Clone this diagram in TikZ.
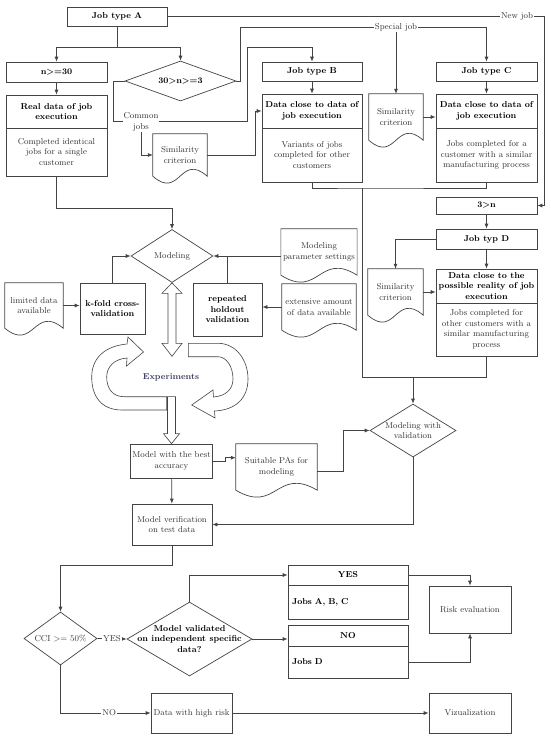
\documentclass[tikz,border=0pt]{standalone}
\usepackage{tikz}
\usetikzlibrary{arrows.meta,shapes.geometric,calc}
\usepackage{xcolor}
\definecolor{linegray}{RGB}{68,68,68}
\definecolor{expblue}{RGB}{58,62,92}

\begin{document}
\begin{tikzpicture}[x=1pt,y=1pt,font=\fontsize{8.6}{10.5}\selectfont,
  box/.style={draw=linegray,fill=white,line width=0.7pt,inner sep=2pt,align=center,text=black!80},
  hdr/.style={box,text=black,font=\fontsize{8.6}{10.5}\selectfont\bfseries},
  doc/.style={inner sep=2pt,align=center,text=black!80},
  decision/.style={diamond,draw=linegray,fill=white,line width=0.7pt,inner sep=0pt},
  dlbl/.style={align=center,text=black!80},
  dbold/.style={align=center,text=black,font=\fontsize{8.6}{10.5}\selectfont\bfseries},
  lbl/.style={fill=white,inner sep=1pt,align=center,text=black!80},
  line/.style={draw=linegray,line width=0.7pt},
  arr/.style={line,-{Latex[length=5pt,width=4pt]}},
  hollow/.style={draw=linegray,fill=white,line width=0.6pt}]
\fill[white] (0,0) rectangle (550,-737);
\useasboundingbox (0,0) rectangle (550,-737);
% job type A and its branches
\node[hdr,minimum width=100,minimum height=19] (jobA) at (117,-16.5) {Job type A};
\node[hdr,minimum width=101,minimum height=20] (n30) at (56.5,-72) {n>=30};
\node[hdr,minimum width=101,minimum height=33] (realH) at (56.5,-111.5) {Real data of job\\execution};
\node[box,minimum width=101,minimum height=48] (realB) at (56.5,-152) {Completed identical\\jobs for a single\\customer};
\node[decision,minimum width=111,minimum height=40,label={[dbold]center:{30>n>=3}}] (dec30) at (180.5,-81) {};
\node[doc,minimum width=54,minimum height=42] (simA) at (180,-155) {Similarity\\criterion};
% job type B
\node[hdr,minimum width=100,minimum height=19] (jobB) at (312,-71.5) {Job type B};
\node[hdr,minimum width=100,minimum height=34] (dataBH) at (312,-111) {Data close to data of\\job execution};
\node[box,minimum width=100,minimum height=54] (dataBB) at (312,-155) {Variants of jobs\\completed for other\\customers};
% job type C
\node[doc,minimum width=54,minimum height=46] (simC) at (396,-117) {Similarity\\criterion};
\node[hdr,minimum width=101,minimum height=19] (jobC) at (486.5,-71.5) {Job type C};
\node[hdr,minimum width=101,minimum height=34] (dataCH) at (486.5,-111) {Data close to data of\\job execution};
\node[box,minimum width=101,minimum height=54] (dataCB) at (486.5,-155) {Jobs completed for a\\customer with a similar\\manufacturing process};
% job type D
\node[hdr,minimum width=101,minimum height=17] (n3) at (486.5,-205.5) {3>n};
\node[hdr,minimum width=101,minimum height=20] (jobD) at (486.5,-239) {Job typ D};
\node[hdr,minimum width=101,minimum height=34] (dataDH) at (486.5,-286) {Data close to the\\possible reality of job\\execution};
\node[box,minimum width=101,minimum height=53] (dataDB) at (486.5,-329.5) {Jobs completed for\\other customers with a\\similar manufacturing\\process};
\node[doc,minimum width=55,minimum height=46] (simD) at (395.5,-292) {Similarity\\criterion};
% modeling block
\node[decision,minimum width=82,minimum height=53,label={[dlbl]center:Modeling}] (model) at (172,-256) {};
\node[hdr,minimum width=65,minimum height=51] (kfold) at (112.5,-308.5) {k-fold cross-\\validation};
\node[doc,minimum width=58,minimum height=45] (limit) at (34,-305.5) {limited data\\available};
\node[hdr,minimum width=69,minimum height=53] (holdout) at (227.5,-309.5) {repeated\\holdout\\validation};
\node[doc,minimum width=74,minimum height=46] (param) at (319,-252) {Modeling\\parameter settings};
\node[doc,minimum width=74,minimum height=46] (extens) at (319,-307) {extensive amount\\of data available};
\node[text=expblue,font=\fontsize{8.6}{10.5}\selectfont\bfseries] (exper) at (171,-377) {Experiments};
\node[box,minimum width=81,minimum height=34] (best) at (171.5,-461) {Model with the best\\accuracy};
\node[doc,minimum width=81,minimum height=46] (pas) at (276.5,-467) {Suitable PAs for\\modeling};
\node[decision,minimum width=86,minimum height=53,label={[dlbl]center:{Modeling with\\validation}}] (mval) at (413,-430.5) {};
\node[box,minimum width=80,minimum height=41] (verif) at (172,-524.5) {Model verification\\on test data};
% evaluation
\node[decision,minimum width=73,minimum height=53,label={[dlbl]center:{CCI >= 50\%}}] (cci) at (60.5,-638.5) {};
\node[decision,minimum width=125,minimum height=74,label={[dbold]center:{Model validated\\on independent specific\\data?}}] (valid) at (189.5,-639) {};
\node[hdr,minimum width=120,minimum height=20] (yesH) at (348,-575) {YES};
\node[hdr,minimum width=120,minimum height=34,text width=112,align=left] (yesB) at (348,-602) {Jobs A, B, C};
\node[hdr,minimum width=120,minimum height=21] (noH) at (348,-635.5) {NO};
\node[hdr,minimum width=120,minimum height=32,text width=112,align=left] (noB) at (348,-662) {Jobs D};
\node[box,minimum width=82,minimum height=47] (risk) at (470,-609.5) {Risk evaluation};
\node[box,minimum width=81,minimum height=40] (high) at (191.5,-713) {Data with high risk};
\node[box,minimum width=82,minimum height=40] (viz) at (470,-713) {Vizualization};
% document outlines
\foreach \d in {simA,simC,simD,limit,param,extens,pas}
  \draw[line] (\d.north west) -- (\d.north east) -- (\d.south east)
    .. controls ($(\d.south)+(0,24)$) and ($(\d.south)+(0,-24)$) .. (\d.south west) -- cycle;
% top splits
\coordinate (splitA) at (117,-47);
\draw[line] (jobA.south) -- (splitA);
\draw[arr] (splitA) -| (n30.north);
\draw[arr] (splitA) -| (dec30.north);
\draw[arr] (n30) -- (realH);
% new job
\coordinate (newR) at (544,-16.5);
\draw[arr] (jobA.east) -- (newR) |- (n3.east);
\node[lbl] (newlbl) at (517,-16.5) {New job};
% special job
\coordinate (spL) at (240,-27);
\draw[arr] (dec30.east) -- (dec30.east -| spL) -- (spL) -| (jobC.north);
\node[lbl] (splbl) at (396,-27) {Special job};
\draw[arr] (splbl.south) -- (simC.north);
% common jobs
\coordinate (cjL) at (113,-121);
\coordinate (cjR) at (247,-121);
\draw[arr] (dec30.west) -| (cjL) -- (cjR) -- (cjR |- splitA) -| (jobB.north);
\node[lbl] (cjlbl) at (141,-122) {Common\\jobs};
\draw[arr] (cjlbl.south) |- (simA.west);
\draw[arr] (simA.east) -- ++(48,0) |- (dataBH.west);
\draw[arr] (jobB) -- (dataBH);
\draw[arr] (jobC) -- (dataCH);
\draw[arr] (simC.east) -- (simC.east -| dataCH.west);
% job D
\draw[arr] (n3) -- (jobD);
\draw[arr] (jobD) -- (dataDH);
\draw[arr] (jobD.west) -| (simD.north);
\draw[arr] (simD.east) -- (simD.east -| dataDH.west);
% B, C, D merge into validation
\coordinate (bcJ) at (362,-188);
\coordinate (dJ) at (362,-377);
\draw[line] (dataBB.south) |- (bcJ) -| (dataCB.south);
\draw[line] (bcJ) -- (dJ) -| (dataDB.south);
\draw[arr] (dJ -| mval.north) -- (mval.north);
% modeling inputs
\draw[arr] (realB.south) -- ++(0,-32) -| (model.north);
\draw[arr] (kfold.north) |- (model.west);
\draw[arr] (limit.east) -- (limit.east -| kfold.west);
\draw[arr] (model.east -| param.west) -- (model.east);
\draw[line] (holdout.north) -- (holdout.north |- model.east);
\draw[arr] (extens.west) -- (extens.west -| holdout.east);
% experiments loop
\draw[hollow] (model.south) -- ++(10,-10.5) -- ++(-6,0) -- ++(0,-50) -- ++(6,0) -- ++(-10,-13)
  -- ++(-10,13) -- ++(6,0) -- ++(0,50) -- ++(-6,0) -- cycle;
\draw[hollow] (166.7,-396.7) -- (166.7,-410) -- (122,-410)
  .. controls (101,-410) and (91.7,-396) .. (91.7,-377)
  .. controls (91.7,-358) and (105,-346) .. (127,-344)
  -- (128,-337) -- (143.5,-352) -- (126.5,-366) -- (127,-358)
  .. controls (114,-359) and (106.7,-367) .. (106.7,-377)
  .. controls (106.7,-389) and (113,-396.7) .. (124,-396.7) -- cycle;
\draw[hollow] (188.3,-343.3) -- (218,-343.3)
  .. controls (236,-343.3) and (248,-360) .. (248,-379)
  .. controls (248,-398) and (236,-410) .. (214.5,-411)
  -- (215,-418) -- (191.7,-405) -- (213,-390) -- (213.5,-397)
  .. controls (226,-396) and (233,-389) .. (233,-379)
  .. controls (233,-366) and (226,-356.7) .. (218,-356.7) -- (188.3,-356.7) -- cycle;
\draw[hollow] (best.north) -- ++(8,10) -- ++(-4,0) -- ++(0,37) -- ++(-8,0) -- ++(0,-37)
  -- ++(-4,0) -- cycle;
% best model and validation
\draw[arr] (best.east) -- ++(12,0) |- ($(pas.north west)!0.3!(pas.south west)$);
\draw[arr] ($(pas.north east)!0.6!(pas.south east)$) -- ++(26,0) |- (mval.west);
\draw[arr] (mval.south) |- (verif.east);
\draw[arr] (best) -- (verif);
\draw[arr] (verif.south) -- ++(0,-20) -| (cci.north);
% decisions
\draw[arr] (cci.east) -- node[lbl] (yeslbl) {YES} (valid.west);
\draw[arr] (cci.south) |- node[lbl,pos=0.77] (nolbl) {NO} (high.west);
\draw[arr] (valid.north) |- (yesH.west);
\draw[arr] (valid.east) -- (valid.east -| noH.west);
\draw[arr] (yesH.east) -| (risk.north);
\draw[arr] (noB.east) -| (risk.south);
\draw[arr] (high) -- (viz);
\end{tikzpicture}
\end{document}
